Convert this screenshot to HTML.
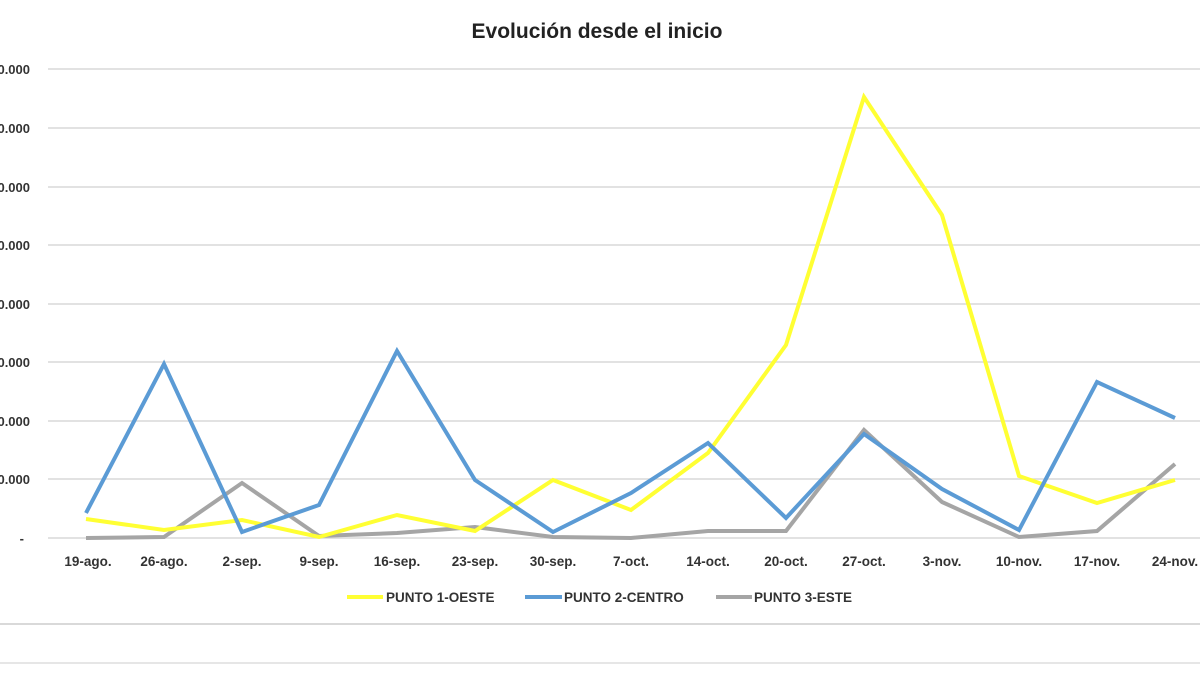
<!DOCTYPE html>
<html><head><meta charset="utf-8"><style>
html,body{margin:0;padding:0;background:#fff;}
svg{display:block;font-family:"Liberation Sans",sans-serif;}
</style></head><body>
<svg width="1200" height="675" viewBox="0 0 1200 675">
<rect width="1200" height="675" fill="#fff"/>
<text x="597" y="38" text-anchor="middle" font-size="21" font-weight="bold" fill="#222">Evolución desde el inicio</text>
<g stroke="#d9d9d9" stroke-width="1.5">
<line x1="48" x2="1200" y1="69" y2="69"/><line x1="48" x2="1200" y1="128" y2="128"/>
<line x1="48" x2="1200" y1="187" y2="187"/><line x1="48" x2="1200" y1="245" y2="245"/>
<line x1="48" x2="1200" y1="304" y2="304"/><line x1="48" x2="1200" y1="362" y2="362"/>
<line x1="48" x2="1200" y1="421" y2="421"/><line x1="48" x2="1200" y1="479" y2="479"/>
<line x1="48" x2="1200" y1="538" y2="538"/>
</g>
<g font-size="13" font-weight="bold" fill="#333" text-anchor="end">
<text x="30" y="74">80.000</text><text x="30" y="133">70.000</text><text x="30" y="192">60.000</text>
<text x="30" y="250">50.000</text><text x="30" y="309">40.000</text><text x="30" y="367">30.000</text>
<text x="30" y="426">20.000</text><text x="30" y="484">10.000</text><text x="24" y="543">-</text>
</g>
<g font-size="13.5" font-weight="bold" fill="#333" text-anchor="middle">
<text x="88" y="566">19-ago.</text><text x="164" y="566">26-ago.</text><text x="242" y="566">2-sep.</text>
<text x="319" y="566">9-sep.</text><text x="397" y="566">16-sep.</text><text x="475" y="566">23-sep.</text>
<text x="553" y="566">30-sep.</text><text x="631" y="566">7-oct.</text><text x="708" y="566">14-oct.</text>
<text x="786" y="566">20-oct.</text><text x="864" y="566">27-oct.</text><text x="942" y="566">3-nov.</text>
<text x="1019" y="566">10-nov.</text><text x="1097" y="566">17-nov.</text><text x="1175" y="566">24-nov.</text>
</g>
<g fill="none" stroke-width="4" stroke-linejoin="miter">
<polyline stroke="#a5a5a5" points="86,538 164,537 242,483 319,536 397,533 475,527 553,537 631,538 708,531 786,531 864,430 942,502 1019,537 1097,531 1175,464"/>
<polyline stroke="#ffff33" points="86,519 164,530 242,520 319,537 397,515 475,531 553,480 631,510 708,453 786,345 864,97 942,215 1019,476 1097,503 1175,480"/>
<polyline stroke="#5b9bd5" points="86,513 164,364 242,532 319,505 397,351 475,480 553,532 631,493 708,443 786,518 864,434 942,489 1019,530 1097,382 1175,418"/>
</g>
<g font-size="13.5" font-weight="bold" fill="#333">
<line x1="347" x2="383" y1="597" y2="597" stroke="#ffff33" stroke-width="4"/><text x="386" y="602">PUNTO 1-OESTE</text>
<line x1="525" x2="562" y1="597" y2="597" stroke="#5b9bd5" stroke-width="4"/><text x="564" y="602">PUNTO 2-CENTRO</text>
<line x1="716" x2="752" y1="597" y2="597" stroke="#a5a5a5" stroke-width="4"/><text x="754" y="602">PUNTO 3-ESTE</text>
</g>
<line x1="0" x2="1200" y1="624" y2="624" stroke="#d9d9d9" stroke-width="2"/>
<line x1="0" x2="1200" y1="663" y2="663" stroke="#e6e6e6" stroke-width="2"/>
</svg>
</body></html>
